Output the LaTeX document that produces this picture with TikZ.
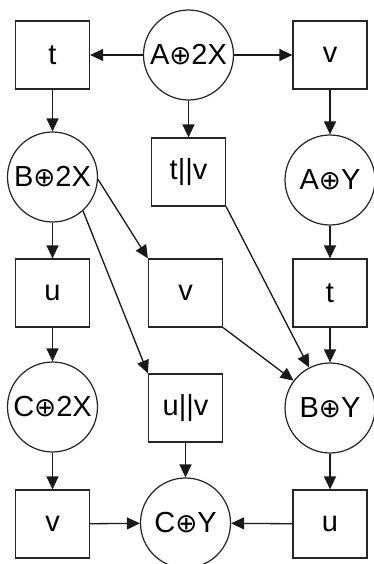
\documentclass[tikz,border=0pt]{standalone}
\usepackage{fontspec}
\setmainfont{Liberation Sans}
\newfontfamily\opfont{DejaVu Sans}
\usetikzlibrary{arrows.meta,positioning}
\newcommand{\cplus}{{\opfont\fontsize{15}{16}\selectfont ⊕}}

\begin{document}
\begin{tikzpicture}[
    font=\fontsize{16.5}{18}\selectfont,
    every node/.style={draw=black!85, line width=0.7pt},
    box/.style={rectangle, minimum width=1.48cm, minimum height=1.36cm, inner sep=0pt},
    place/.style={circle, minimum size=1.8cm, inner sep=0pt},
    arrow/.style={-{Triangle[length=2.6mm, width=2.4mm]}, line width=0.75pt, black!90}
]
\useasboundingbox (0,0) rectangle (7.48,-11.28);

% top row
\node[place] (A2X) at (3.77,-1.10) {A\cplus2X};
\node[box] (t1) at (1.05,-1.10) {t};
\node[box] (v1) at (6.60,-1.10) {v};

% second row
\node[place] (B2X) at (1.05,-3.54) {B\cplus2X};
\node[box] (tv) at (3.77,-3.44) {t||v};
\node[place] (AY) at (6.60,-3.60) {A\cplus Y};

% third row
\node[box] (u1) at (1.05,-5.86) {u};
\node[box] (vm) at (3.71,-5.86) {v};
\node[box] (t2) at (6.60,-5.86) {t};

% fourth row
\node[place] (C2X) at (1.05,-8.14) {C\cplus2X};
\node[box] (uv) at (3.71,-8.16) {u||v};
\node[place] (BY) at (6.60,-8.16) {B\cplus Y};

% bottom row
\node[box] (v2) at (1.05,-10.48) {v};
\node[place] (CY) at (3.71,-10.46) {C\cplus Y};
\node[box] (u2) at (6.60,-10.48) {u};

\draw[arrow] (A2X) -- (t1);
\draw[arrow] (A2X) -- (v1);
\draw[arrow] (A2X) -- (tv);
\draw[arrow] (t1) -- (B2X);
\draw[arrow] (v1) -- (AY);

\draw[arrow] (B2X) -- (u1);
\draw[arrow] (B2X.-3) -- (vm.north west);
\draw[arrow] (B2X.-48) -- (uv.north west);
\draw[arrow] (tv.south east) -- (BY);
\draw[arrow] (vm.south east) -- (BY);
\draw[arrow] (AY) -- (t2);
\draw[arrow] (t2) -- (BY);

\draw[arrow] (u1) -- (C2X);
\draw[arrow] (C2X) -- (v2);
\draw[arrow] (uv) -- (CY);
\draw[arrow] (BY) -- (u2);
\draw[arrow] (v2) -- (CY);
\draw[arrow] (u2) -- (CY);
\end{tikzpicture}
\end{document}
